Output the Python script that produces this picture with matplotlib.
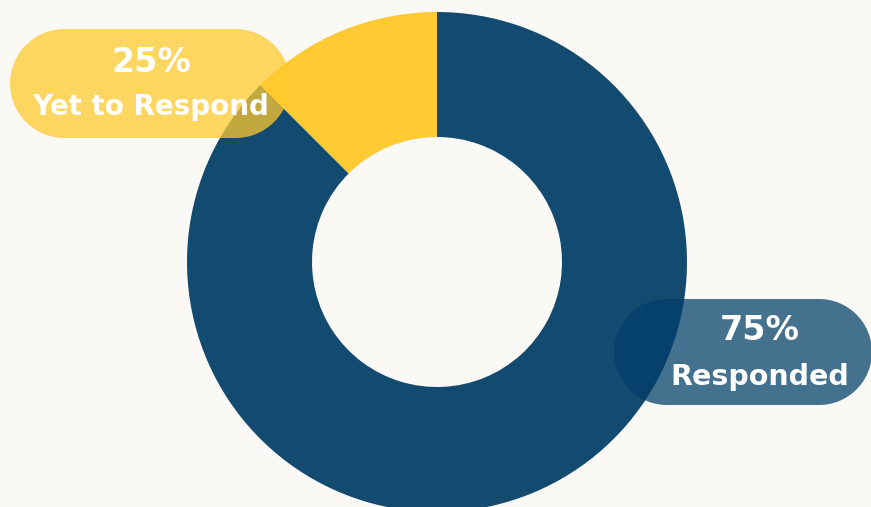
import matplotlib.pyplot as plt
import numpy as np
from matplotlib.patches import Polygon

# Slice sizes as drawn in the picture, and the labels printed on the chart
categories = ["Yet to Respond", "Responded"]
values = [12.5, 87.5]
pct_labels = ["25%", "75%"]
colors = ["#ffca33", "#134a70"]


def pill(x, y, w, h, **kw):
    # rectangle with fully rounded ends
    r = h / 2
    t = np.linspace(-np.pi / 2, np.pi / 2, 60)
    right = np.column_stack([x + w - r + r * np.cos(t), y + r + r * np.sin(t)])
    left = np.column_stack([x + r - r * np.cos(t), y + r - r * np.sin(t)])
    return Polygon(np.vstack([right, left]), closed=True, **kw)


fig = plt.figure(figsize=(8.71, 5.07), dpi=100, facecolor="#faf9f6")
ax = fig.add_axes([0, 0, 1, 1])
ax.set_facecolor("#faf9f6")

# donut, coordinates in pixels (y measured from the bottom)
ax.pie(values, colors=colors, startangle=90, counterclock=True,
       center=(437, 245), radius=250, frame=True,
       wedgeprops=dict(width=125, linewidth=0))

# label pills
ax.add_patch(pill(10, 369, 280, 109, facecolor="#ffca2e", alpha=0.74, linewidth=0))
ax.add_patch(pill(614, 102, 258, 106, facecolor="#003f68", alpha=0.73, linewidth=0))

font = ["DejaVu Sans"]
ax.text(151, 445, pct_labels[0], ha="center", va="center", color="white",
        fontsize=24, fontweight="bold", family=font)
ax.text(151, 400, categories[0], ha="center", va="center", color="white",
        fontsize=20, fontweight="bold", family=font)
ax.text(760, 177, pct_labels[1], ha="center", va="center", color="white",
        fontsize=24, fontweight="bold", family=font)
ax.text(760, 130, categories[1], ha="center", va="center", color="white",
        fontsize=20.5, fontweight="bold", family=font)

ax.set_xlim(0, 871)
ax.set_ylim(0, 507)
ax.set_aspect("equal")
ax.axis("off")

plt.savefig("out.png", dpi=100, facecolor=fig.get_facecolor())
